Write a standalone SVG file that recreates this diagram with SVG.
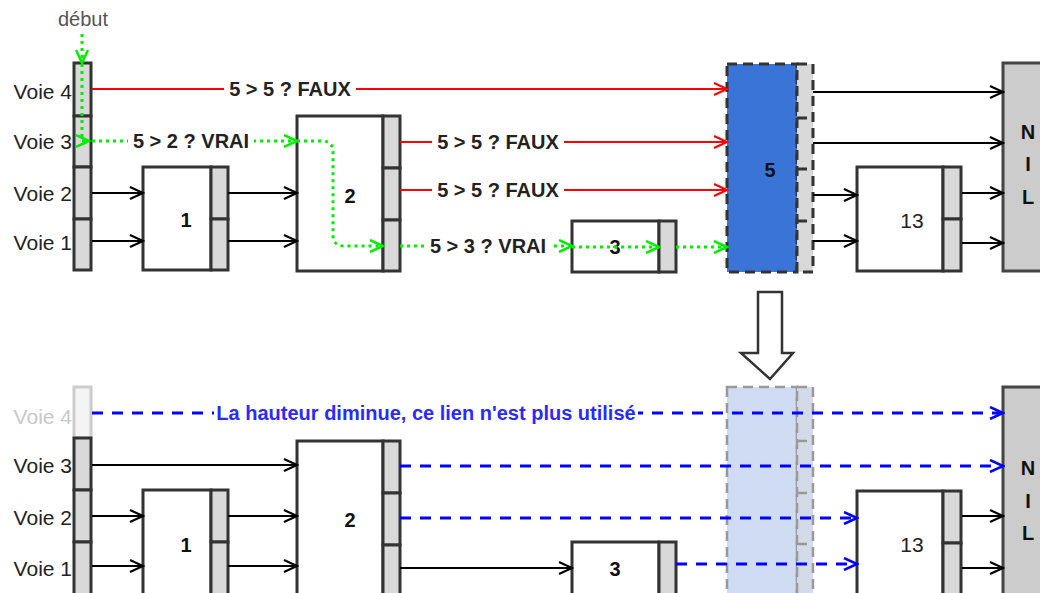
<svg xmlns="http://www.w3.org/2000/svg" width="1040" height="593" viewBox="0 0 1040 593">
<style>
text{font-family:"Liberation Sans",Arial,sans-serif;font-size:20px;dominant-baseline:central}
.lane{text-anchor:end;fill:#222;font-size:21px}
.lbl{text-anchor:middle;font-weight:bold;fill:#222}
.num{text-anchor:middle;font-weight:bold;fill:#111}
.box{fill:#fff;stroke:#333;stroke-width:3}
.cell{fill:#d9d9d9;stroke:#333;stroke-width:3}
.nil{fill:#cccccc;stroke:#444;stroke-width:3}
.blk{fill:none;stroke:#000;stroke-width:2;marker-end:url(#ak)}
.red{fill:none;stroke:#ff0000;stroke-width:2;marker-end:url(#ar)}
.grn{fill:none;stroke:#00ee00;stroke-width:3;stroke-dasharray:3 4;marker-end:url(#ag)}
.blu{fill:none;stroke:#0000ff;stroke-width:3;stroke-dasharray:11 9;marker-end:url(#ab)}
.bg{fill:#fff}
</style>
<defs>
<marker id="ak" markerUnits="userSpaceOnUse" markerWidth="16" markerHeight="14" refX="14" refY="7" orient="auto" viewBox="0 0 16 14"><path d="M1,1 L14,7 L1,13" fill="none" stroke="#000" stroke-width="2.2"/></marker>
<marker id="ar" markerUnits="userSpaceOnUse" markerWidth="16" markerHeight="14" refX="14" refY="7" orient="auto" viewBox="0 0 16 14"><path d="M1,1 L14,7 L1,13" fill="none" stroke="#ff0000" stroke-width="2.2"/></marker>
<marker id="ag" markerUnits="userSpaceOnUse" markerWidth="16" markerHeight="14" refX="14" refY="7" orient="auto" viewBox="0 0 16 14"><path d="M1,1 L14,7 L1,13" fill="none" stroke="#00ee00" stroke-width="2.5"/></marker>
<marker id="ab" markerUnits="userSpaceOnUse" markerWidth="16" markerHeight="14" refX="14" refY="7" orient="auto" viewBox="0 0 16 14"><path d="M1,1 L14,7 L1,13" fill="none" stroke="#0000ff" stroke-width="2.5"/></marker>
</defs>

<!-- ================= TOP ================= -->
<g id="top-lanes">
<text class="lane" x="72" y="91">Voie 4</text>
<text class="lane" x="72" y="141">Voie 3</text>
<text class="lane" x="72" y="193">Voie 2</text>
<text class="lane" x="72" y="242">Voie 1</text>
<text x="83" y="19" style="text-anchor:middle;font-size:20px;fill:#555">début</text>
</g>

<g id="top-head">
<rect class="cell" x="74" y="63" width="17" height="53"/>
<rect class="cell" x="74" y="116" width="17" height="51"/>
<rect class="cell" x="74" y="167" width="17" height="52"/>
<rect class="cell" x="74" y="219" width="17" height="51"/>
</g>

<g id="top-node1">
<rect class="box" x="143" y="167" width="68" height="103"/>
<rect class="cell" x="211" y="167" width="17" height="52"/>
<rect class="cell" x="211" y="219" width="17" height="51"/>
<text class="num" x="186" y="220">1</text>
</g>

<g id="top-node2">
<rect class="box" x="297" y="116" width="86" height="155"/>
<rect class="cell" x="383" y="116" width="17" height="52"/>
<rect class="cell" x="383" y="168" width="17" height="52"/>
<rect class="cell" x="383" y="220" width="17" height="51"/>
<text class="num" x="350" y="196">2</text>
</g>

<g id="top-node3">
<rect class="box" x="572" y="221" width="87" height="51"/>
<rect class="cell" x="659" y="221" width="17" height="51"/>
<text class="num" x="615" y="247">3</text>
</g>

<g id="top-node5">
<rect x="727" y="64" width="70" height="208" fill="#3a74d6" stroke="#333" stroke-width="3" stroke-dasharray="10 6"/>
<rect x="797" y="64" width="16" height="208" fill="#d9d9d9" stroke="#333" stroke-width="3" stroke-dasharray="10 6"/>
<path d="M797,118 H813 M797,169 H813 M797,221 H813" stroke="#333" stroke-width="3" stroke-dasharray="10 6"/>
<text class="num" x="770" y="170">5</text>
</g>

<g id="top-node13">
<rect class="box" x="857" y="167" width="86" height="104"/>
<rect class="cell" x="943" y="167" width="18" height="52"/>
<rect class="cell" x="943" y="219" width="18" height="52"/>
<text x="912" y="220" style="text-anchor:middle;fill:#222;font-size:21px">13</text>
</g>

<g id="top-nil">
<rect class="nil" x="1003" y="63" width="45" height="208"/>
<text class="num" x="1028" y="132">N</text>
<text class="num" x="1028" y="164">I</text>
<text class="num" x="1028" y="197">L</text>
</g>

<g id="top-connectors">
<path class="blk" d="M92,193 H143"/>
<path class="blk" d="M92,241 H143"/>
<path class="blk" d="M228,193 H297"/>
<path class="blk" d="M228,241 H297"/>
<path class="blk" d="M813,92 H1003"/>
<path class="blk" d="M813,143 H1003"/>
<path class="blk" d="M813,195 H857"/>
<path class="blk" d="M813,241 H857"/>
<path class="blk" d="M962,193 H1003"/>
<path class="blk" d="M962,243 H1003"/>

<path class="red" d="M92,89 H727"/>
<path class="red" d="M400,142 H727"/>
<path class="red" d="M400,190 H727"/>

<path class="grn" d="M82,34 V63"/>
<path class="grn" d="M82,64 V141 H89"/>
<path class="grn" d="M92,141 H297"/>
<path class="grn" d="M297,141 H322 Q333,141 333,152 V235 Q333,246 344,246 H383"/>
<path class="grn" d="M400,246 H572"/>
<path class="grn" d="M572,247 H659"/>
<path class="grn" d="M676,247 H727"/>

<rect class="bg" x="224" y="78" width="132" height="22"/>
<text class="lbl" x="290" y="89">5 &gt; 5 ? FAUX</text>
<rect class="bg" x="128" y="130" width="126" height="22"/>
<text class="lbl" x="191" y="141">5 &gt; 2 ? VRAI</text>
<rect class="bg" x="432" y="131" width="132" height="22"/>
<text class="lbl" x="498" y="142">5 &gt; 5 ? FAUX</text>
<rect class="bg" x="432" y="179" width="132" height="22"/>
<text class="lbl" x="498" y="190">5 &gt; 5 ? FAUX</text>
<rect class="bg" x="425" y="235" width="126" height="22"/>
<text class="lbl" x="488" y="246">5 &gt; 3 ? VRAI</text>
</g>

<g id="transition">
<polygon points="758,292 782,292 782,353 793,353 770,379 741,353 758,353" fill="#fff" stroke="#333" stroke-width="2.5"/>
</g>

<!-- ================= BOTTOM ================= -->
<g id="bottom-lanes">
<text class="lane" x="72" y="416" style="fill:#c8c8c8">Voie 4</text>
<text class="lane" x="72" y="465">Voie 3</text>
<text class="lane" x="72" y="517">Voie 2</text>
<text class="lane" x="72" y="568">Voie 1</text>
</g>

<g id="bottom-head">
<rect x="74" y="387" width="17" height="51" fill="#f4f4f4" stroke="#cccccc" stroke-width="3"/>
<rect class="cell" x="74" y="438" width="17" height="52"/>
<rect class="cell" x="74" y="490" width="17" height="52"/>
<rect class="cell" x="74" y="542" width="17" height="60"/>
</g>

<g id="bottom-node1">
<rect class="box" x="143" y="490" width="68" height="112"/>
<rect class="cell" x="211" y="490" width="17" height="52"/>
<rect class="cell" x="211" y="542" width="17" height="60"/>
<text class="num" x="186" y="545">1</text>
</g>

<g id="bottom-node2">
<rect class="box" x="297" y="441" width="86" height="161"/>
<rect class="cell" x="383" y="441" width="17" height="52"/>
<rect class="cell" x="383" y="493" width="17" height="52"/>
<rect class="cell" x="383" y="545" width="17" height="57"/>
<text class="num" x="350" y="520">2</text>
</g>

<g id="bottom-node3">
<rect class="box" x="572" y="542" width="87" height="60"/>
<rect class="cell" x="659" y="542" width="17" height="60"/>
<text class="num" x="615" y="569">3</text>
</g>

<g id="bottom-node5">
<rect x="727" y="387" width="70" height="215" fill="#cfdcf3" stroke="#999" stroke-width="2.5" stroke-dasharray="10 6"/>
<rect x="797" y="387" width="16" height="215" fill="#d3dbe8" stroke="#999" stroke-width="2.5" stroke-dasharray="10 6"/>
<path d="M797,441 H813 M797,493 H813 M797,544 H813" stroke="#999" stroke-width="2.5" stroke-dasharray="10 6"/>
</g>

<g id="bottom-node13">
<rect class="box" x="857" y="491" width="86" height="111"/>
<rect class="cell" x="943" y="491" width="18" height="52"/>
<rect class="cell" x="943" y="543" width="18" height="59"/>
<text x="912" y="544" style="text-anchor:middle;fill:#222;font-size:21px">13</text>
</g>

<g id="bottom-nil">
<rect class="nil" x="1003" y="387" width="45" height="215"/>
<text class="num" x="1028" y="468">N</text>
<text class="num" x="1028" y="501">I</text>
<text class="num" x="1028" y="533">L</text>
</g>

<g id="bottom-connectors">
<path class="blk" d="M92,465 H297"/>
<path class="blk" d="M92,516 H143"/>
<path class="blk" d="M92,566 H143"/>
<path class="blk" d="M228,516 H297"/>
<path class="blk" d="M228,566 H297"/>
<path class="blk" d="M400,568 H572"/>
<path class="blk" d="M962,516 H1003"/>
<path class="blk" d="M962,568 H1003"/>

<path class="blu" d="M92,413 H1003"/>
<path class="blu" d="M400,466 H1003"/>
<path class="blu" d="M400,518 H857"/>
<path class="blu" d="M676,564 H857"/>

<rect class="bg" x="214" y="401" width="424" height="24"/>
<text x="426" y="413" style="text-anchor:middle;font-weight:bold;fill:#2a2aff">La hauteur diminue, ce lien n'est plus utilisé</text>
</g>
</svg>
